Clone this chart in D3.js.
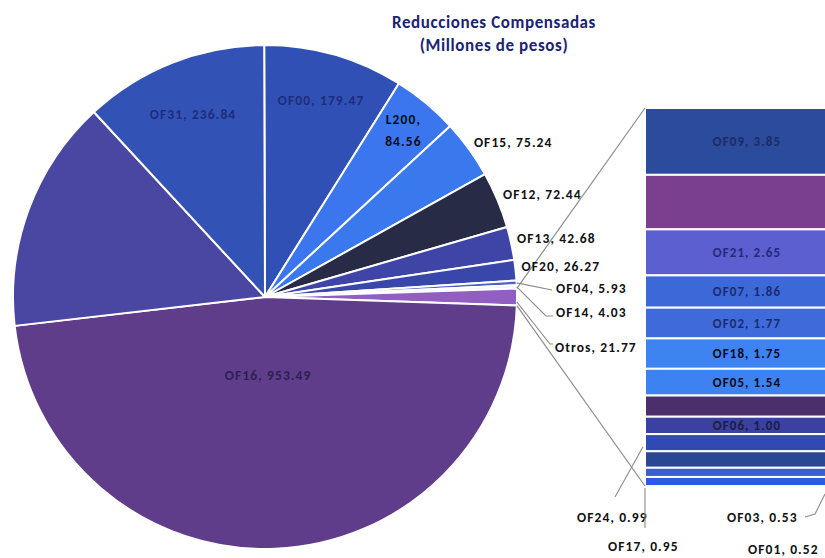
<!DOCTYPE html>
<html><head><meta charset="utf-8">
<script src="https://cdn.jsdelivr.net/npm/d3@7"></script>
<style>body{margin:0;background:#fff}svg{display:block}</style>
</head><body>
<svg id="c" width="825" height="558"></svg>
<script>
// ---- data ----
const pieLabels = ["OF00","L200","OF15","OF12","OF13","OF20","OF04","OF14","Otros","OF16","OF30","OF31"];
const pieValues = [179.47,84.56,75.24,72.44,42.68,26.27,5.93,4.03,21.77,953.49,299.20,236.84];
const pieColors = ["#3150b6","#3b76ee","#3a78ee","#272b45","#3f45a6","#3a47aa","#4b5fcf","#f3f0fa","#915fc1","#5f3d8b","#4a47a2","#3352b6"];
const barLabels = ["OF09","OF26","OF21","OF07","OF02","OF18","OF05","OF11","OF06","OF24","OF17","OF03","OF01"];
const barValues = [3.85,3.14,2.65,1.86,1.77,1.75,1.54,1.22,1.00,0.99,0.95,0.53,0.52];
const barColors = ["#2b4b9c","#7b3f8f","#5b5fd0","#3b69d8","#3e6bd9","#3d84f2","#3c82f0","#4a2f6b","#3a41a2","#3149b2","#2a4792","#3a5fd2","#2b5ae2"];
const title = ["Reducciones Compensadas","(Millones de pesos)"];

const svg = d3.select("#c");
const cx = 265, cy = 297, R = 252;
const font = "Carlito, Lato, 'Liberation Sans', sans-serif";

// rotation: centre "Otros" at 3 o'clock
const total = d3.sum(pieValues);
const iO = pieLabels.indexOf("Otros");
const before = d3.sum(pieValues.slice(0, iO)) + pieValues[iO] / 2;
const rot = Math.PI / 2 - before / total * 2 * Math.PI;

const pie = d3.pie().sort(null).value(d => d.v).startAngle(rot).endAngle(rot + 2 * Math.PI);
const pdata = pieLabels.map((l, i) => ({l, v: pieValues[i], c: pieColors[i]}));
const arcs = pie(pdata);
const arc = d3.arc().innerRadius(0).outerRadius(R);
const g = svg.append("g").attr("transform", `translate(${cx},${cy})`);
g.selectAll("path").data(arcs).join("path")
  .attr("d", arc).attr("fill", d => d.data.c)
  .attr("stroke", "#ffffff").attr("stroke-width", 2).attr("stroke-linejoin", "round");

const pt = (a, r) => [Math.sin(a) * r, -Math.cos(a) * r];
const mid = d => (d.startAngle + d.endAngle) / 2;
const byName = n => arcs.find(a => a.data.l === n);

// bar
const bx0 = 645, bw = 205;
const y = d3.scaleLinear().domain([0, d3.sum(barValues)]).range([108, 486]);
let acc = 0;
const bdata = barValues.map((v, i) => { const o = {l: barLabels[i], v, c: barColors[i], y0: acc, y1: acc + v}; acc += v; return o; });
svg.append("g").selectAll("rect").data(bdata).join("rect")
  .attr("x", bx0).attr("width", bw)
  .attr("y", d => y(d.y0)).attr("height", d => y(d.y1) - y(d.y0))
  .attr("fill", d => d.c).attr("stroke", "#ffffff").attr("stroke-width", 2);

// connector lines
const ot = byName("Otros");
const pTop = pt(ot.startAngle, R), pBot = pt(ot.endAngle, R);
const lineC = "#8c8c8c";
svg.append("line").attr("x1", cx + pTop[0]).attr("y1", cy + pTop[1]).attr("x2", bx0).attr("y2", y(0))
  .attr("stroke", lineC).attr("stroke-width", 1.2);
svg.append("line").attr("x1", cx + pBot[0]).attr("y1", cy + pBot[1]).attr("x2", bx0).attr("y2", y(d3.sum(barValues)))
  .attr("stroke", lineC).attr("stroke-width", 1.2);

// labels
const T = (x, yy, txt, opts = {}) => svg.append("text").attr("x", x).attr("y", yy)
  .attr("font-family", font).attr("font-weight", "bold").attr("font-size", opts.size || 13.5)
  .attr("fill", opts.fill || "#111").attr("text-anchor", opts.anchor || "start")
  .attr("dominant-baseline", "central").attr("letter-spacing", opts.ls == null ? 1.1 : opts.ls).text(txt);
const fmt = v => v.toFixed(2);
const lab = n => `${n}, ${fmt(pieValues[pieLabels.indexOf(n)])}`;

// inner pie labels (low contrast)
[["OF00", 0.81, "#1e2c7c"], ["OF31", 0.78, "#1e2c7c"], ["OF16", 0.31, "#2e1f55"]].forEach(([n, f, col]) => {
  const p = pt(mid(byName(n)), R * f);
  T(cx + p[0], cy + p[1], lab(n), {anchor: "middle", fill: col, size: 13.5});
});
{ const p = pt(mid(byName("L200")), R * 0.86);
  T(cx + p[0], cy + p[1] - 11, "L200,", {anchor: "middle", fill: "#0d0d1a"});
  T(cx + p[0], cy + p[1] + 11, fmt(pieValues[1]), {anchor: "middle", fill: "#0d0d1a"}); }

// outer labels near arc
["OF15", "OF12", "OF13", "OF20"].forEach(n => {
  const p = pt(mid(byName(n)), R + 6);
  T(cx + p[0], cy + p[1] - 3, lab(n));
});

// labels with leader lines
const leader = pts => svg.append("path").attr("d", d3.line()(pts)).attr("fill", "none")
  .attr("stroke", lineC).attr("stroke-width", 1.1);
{ const p = pt(mid(byName("OF04")), R); leader([[cx + p[0], cy + p[1]], [552, 290]]); T(556, 288, lab("OF04")); }
{ const p = pt(mid(byName("OF14")), R); leader([[cx + p[0], cy + p[1]], [546, 316], [553, 316]]); T(556, 312, lab("OF14")); }
{ const p = pt(mid(byName("Otros")) + 0.02, R); leader([[cx + p[0], cy + p[1]], [550, 344], [553, 344]]); T(555, 347, lab("Otros")); }

// bar labels
const bcol = {OF09: "#1c2c66", OF21: "#25297a", OF07: "#1d2a70", OF02: "#1d2a70", OF18: "#0a0a14", OF05: "#0a0a14", OF06: "#1c1c40"};
bdata.forEach(d => {
  if (bcol[d.l]) T(bx0 + 102, (y(d.y0) + y(d.y1)) / 2, `${d.l}, ${fmt(d.v)}`, {anchor: "middle", fill: bcol[d.l], size: 13});
});
// outside bar labels with leaders
const bd = n => bdata.find(d => d.l === n);
leader([[615, 497], [bx0 - 2, (y(bd("OF24").y0) + y(bd("OF24").y1)) / 2 + 4]]);
T(577, 517, `OF24, ${fmt(bd("OF24").v)}`);
leader([[bx0, y(d3.sum(barValues)) + 2], [bx0, 528]]);
T(608, 546, `OF17, ${fmt(bd("OF17").v)}`);
leader([[805, 517], [815, 514], [825, 494]]);
T(727, 517, `OF03, ${fmt(bd("OF03").v)}`);
T(748, 549, `OF01, ${fmt(bd("OF01").v)}`);

// title
svg.append("text").attr("x", 494).attr("y", 22).attr("text-anchor", "middle").attr("dominant-baseline", "central")
  .attr("font-family", font).attr("font-weight", "bold").attr("font-size", 17).attr("letter-spacing", 0.6).attr("fill", "#1b2470").text(title[0]);
svg.append("text").attr("x", 494).attr("y", 45).attr("text-anchor", "middle").attr("dominant-baseline", "central")
  .attr("font-family", font).attr("font-weight", "bold").attr("font-size", 17).attr("letter-spacing", 0.6).attr("fill", "#1b2470").text(title[1]);
</script>
</body></html>
